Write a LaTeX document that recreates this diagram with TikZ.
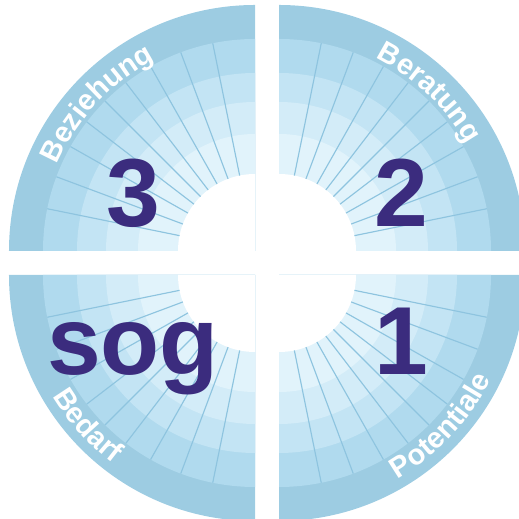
\documentclass[tikz,border=0pt]{standalone}
\usepackage{fontspec}
\setmainfont{Liberation Sans}
\usetikzlibrary{decorations.text}

\definecolor{bandblue}{RGB}{157,204,226}
\definecolor{ringA}{RGB}{176,218,238}
\definecolor{ringB}{RGB}{195,228,244}
\definecolor{ringC}{RGB}{211,236,248}
\definecolor{ringD}{RGB}{225,243,251}
\definecolor{rayblue}{RGB}{142,196,223}
\definecolor{numpurple}{RGB}{59,44,126}

\newcommand\lblfont{\fontsize{16.5}{17}\selectfont\bfseries}

\begin{document}
\begin{tikzpicture}[
    x=0.02cm, y=0.02cm,
    num/.style={anchor=base, inner sep=0pt, text=numpurple, font=\fontsize{55}{60}\selectfont\bfseries},
    ray/.style={rayblue, line width=0.65pt},
    arclbl/.style={decorate, decoration={text along path, text align=center, text color=white, text={|\lblfont|#1}}}
]

% canvas, cut at the right and bottom edge
\path[use as bounding box, clip] (-267,-256) rectangle (252,263);

% four quarters, each pushed out from the middle
\foreach \cx/\cy/\a [count=\q] in {12/12/0, -12/12/90, -12/-12/180, 12/-12/270} {
  \coordinate (c\q) at (\cx,\cy);
  \foreach \r/\col in {246/bandblue, 212/ringA, 178/ringB, 149/ringC, 117/ringD, 77/white}
    \fill[\col, shift={(\cx,\cy)}] (0,0) -- (\a:\r) arc[start angle=\a, end angle=\a+90, radius=\r] -- cycle;
  \foreach \d in {11.5,20.5,29.5,37.5,45,52.5,60.5,69.5,78.5}
    \draw[ray, shift={(\cx,\cy)}] (\a+\d:77) -- (\a+\d:212);
}

% labels in the outer band
\path[arclbl=Beziehung, shift={(c2)}] (172:216) arc[start angle=172, end angle=102, radius=216];
\path[arclbl=Beratung, shift={(c1)}] (81.5:216) arc[start angle=81.5, end angle=11.5, radius=216];
\path[arclbl=Bedarf, shift={(c3)}] (187:236) arc[start angle=187, end angle=257, radius=236];
\path[arclbl=Potentiale, shift={(c4)}] (282:236) arc[start angle=282, end angle=352, radius=236];

% numbers
\node[num] (three) at (-134,36) {3};
\node[num] (two) at (134,36) {2};
\node[num] (one) at (134,-112) {1};
\node[num] (sog) at (-134,-112) {sog};

\end{tikzpicture}
\end{document}
